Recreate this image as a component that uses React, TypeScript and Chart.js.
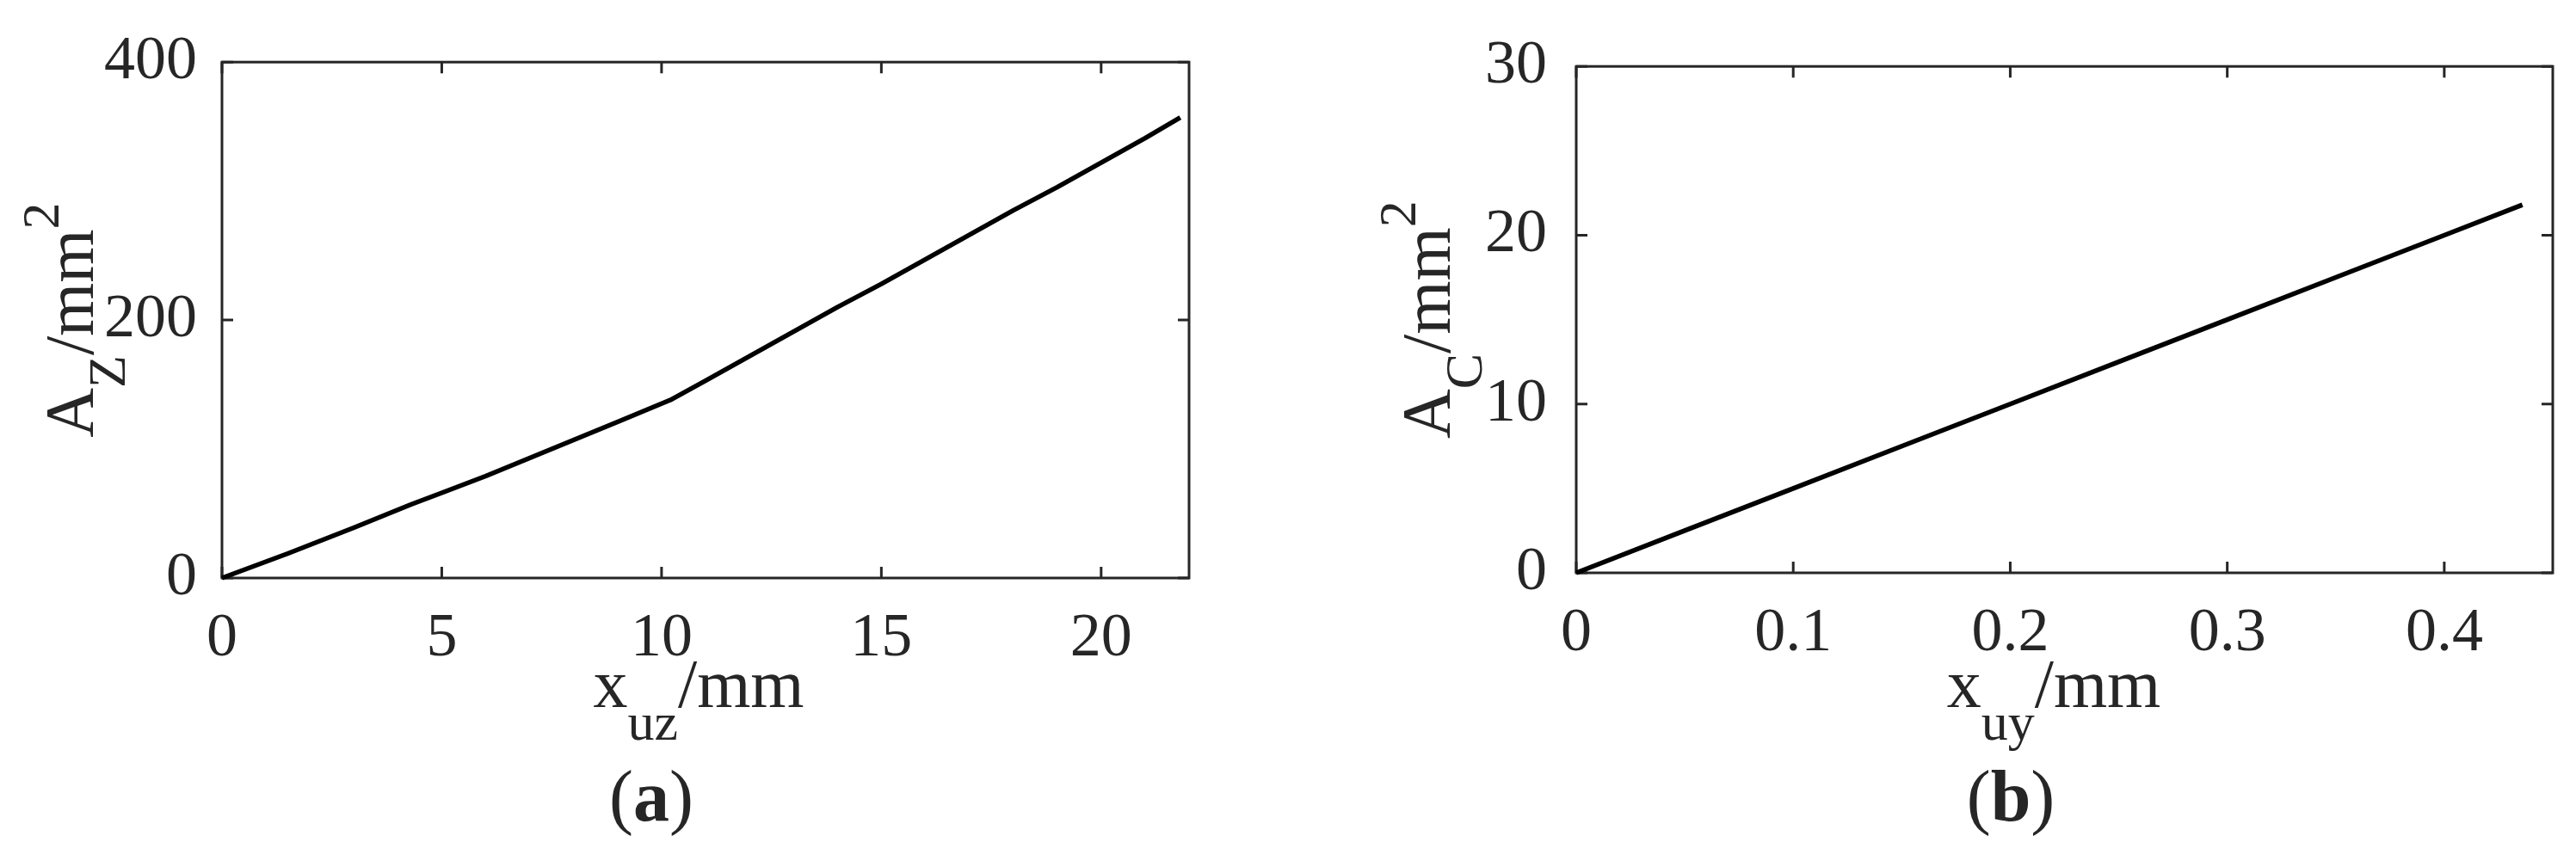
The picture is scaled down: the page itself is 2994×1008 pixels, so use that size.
import React, { useEffect, useRef } from "react";
import { Chart, registerables } from "chart.js";

Chart.register(...registerables);

const FONT = '"Liberation Serif", "Times New Roman", serif';
const INK = "#262626";

// ---------- Panel (a) data ----------
const xuzValues = [0, 1.5, 3, 4.3, 5, 6, 7, 8, 9, 10.2, 11, 12, 13, 14, 15, 16, 17, 18, 19, 20, 21, 21.8];
const azValues = [0, 19, 39, 57, 66, 79, 93, 107, 121, 138, 153, 172, 191, 210, 228, 247, 266, 285, 303, 322, 341, 357];
const xuzTicks = [0, 5, 10, 15, 20];
const azTicks = [0, 200, 400];
const xuzLimits = [0, 22];
const azLimits = [0, 400];

// ---------- Panel (b) data ----------
const xuyValues = [0, 0.05, 0.1, 0.15, 0.2, 0.25, 0.3, 0.35, 0.4, 0.436];
const acValues = [0, 2.5, 5, 7.5, 10, 12.5, 15, 17.5, 20, 21.8];
const xuyTicks = [0, 0.1, 0.2, 0.3, 0.4];
const acTicks = [0, 10, 20, 30];
const xuyLimits = [0, 0.45];
const acLimits = [0, 30];

type Part = { t: string; size: number; dy: number; bold?: boolean };

interface PanelSpec {
  xs: number[];
  ys: number[];
  xTicks: number[];
  yTicks: number[];
  xLim: number[];
  yLim: number[];
  area: { left: number; top: number; right: number; bottom: number };
  yTickPad: number;
  xTickPad: number;
  yTitle: Part[];
  yTitleBaseX: number;
  xTitle: Part[];
  xTitleCx: number;
  xTitleBase: number;
  panel: Part[];
  panelCx: number;
  panelBase: number;
}

const CW = 1497;
const CH = 1008;

function fontOf(p: Part) {
  return `${p.bold ? "bold " : ""}${p.size}px ${FONT}`;
}

function drawRich(ctx: CanvasRenderingContext2D, parts: Part[], x: number, y: number, rotate: boolean) {
  ctx.save();
  ctx.translate(x, y);
  if (rotate) ctx.rotate(-Math.PI / 2);
  ctx.fillStyle = INK;
  ctx.textBaseline = "alphabetic";
  ctx.textAlign = "left";
  const widths = parts.map((p) => {
    ctx.font = fontOf(p);
    return ctx.measureText(p.t).width;
  });
  const total = widths.reduce((a, b) => a + b, 0);
  let cx = -total / 2;
  parts.forEach((p, i) => {
    ctx.font = fontOf(p);
    ctx.fillText(p.t, cx, p.dy);
    cx += widths[i];
  });
  ctx.restore();
}

function makePlugin(spec: PanelSpec) {
  return {
    id: "frame",
    beforeDatasetsDraw(chart: any) {
      const { ctx, chartArea: a, scales } = chart;
      const TL = 13;
      ctx.save();
      ctx.strokeStyle = INK;
      ctx.lineWidth = 3;
      ctx.lineCap = "butt";
      ctx.strokeRect(a.left, a.top, a.right - a.left, a.bottom - a.top);
      ctx.beginPath();
      for (const t of scales.x.ticks) {
        const px = scales.x.getPixelForValue(t.value);
        ctx.moveTo(px, a.bottom);
        ctx.lineTo(px, a.bottom - TL);
        ctx.moveTo(px, a.top);
        ctx.lineTo(px, a.top + TL);
      }
      for (const t of scales.y.ticks) {
        const py = scales.y.getPixelForValue(t.value);
        ctx.moveTo(a.left, py);
        ctx.lineTo(a.left + TL, py);
        ctx.moveTo(a.right, py);
        ctx.lineTo(a.right - TL, py);
      }
      ctx.stroke();
      ctx.restore();
    },
    afterDraw(chart: any) {
      const { ctx, chartArea: a } = chart;
      drawRich(ctx, spec.yTitle, spec.yTitleBaseX, (a.top + a.bottom) / 2, true);
      drawRich(ctx, spec.xTitle, spec.xTitleCx, spec.xTitleBase, false);
      drawRich(ctx, spec.panel, spec.panelCx, spec.panelBase, false);
    },
  };
}

function makeConfig(spec: PanelSpec): any {
  const tickFont = { family: FONT, size: 72 };
  return {
    type: "line",
    data: {
      datasets: [
        {
          data: spec.xs.map((x, i) => ({ x, y: spec.ys[i] })),
          borderColor: "#000000",
          borderWidth: 5.5,
          borderJoinStyle: "round",
          pointRadius: 0,
          tension: 0,
          fill: false,
          clip: false,
        },
      ],
    },
    options: {
      animation: false,
      responsive: false,
      devicePixelRatio: 1,
      events: [],
      layout: {
        padding: { left: 0, top: spec.area.top, right: CW - spec.area.right, bottom: 0 },
      },
      plugins: { legend: { display: false }, tooltip: { enabled: false } },
      scales: {
        x: {
          type: "linear",
          min: spec.xLim[0],
          max: spec.xLim[1],
          grid: { display: false, drawTicks: false },
          border: { display: false },
          afterBuildTicks: (s: any) => {
            s.ticks = spec.xTicks.map((v) => ({ value: v }));
          },
          afterFit: (s: any) => {
            s.height = CH - spec.area.bottom;
          },
          ticks: {
            color: INK,
            font: tickFont,
            padding: spec.xTickPad,
            maxRotation: 0,
            autoSkip: false,
            callback: (v: any) => String(v),
          },
        },
        y: {
          type: "linear",
          min: spec.yLim[0],
          max: spec.yLim[1],
          grid: { display: false, drawTicks: false },
          border: { display: false },
          afterBuildTicks: (s: any) => {
            s.ticks = spec.yTicks.map((v) => ({ value: v }));
          },
          afterFit: (s: any) => {
            s.width = spec.area.left;
          },
          ticks: {
            color: INK,
            font: tickFont,
            padding: spec.yTickPad,
            autoSkip: false,
            callback: (v: any) => String(v),
          },
        },
      },
    },
    plugins: [makePlugin(spec)],
  };
}

const specA: PanelSpec = {
  xs: xuzValues,
  ys: azValues,
  xTicks: xuzTicks,
  yTicks: azTicks,
  xLim: xuzLimits,
  yLim: azLimits,
  area: { left: 258, top: 71, right: 1382, bottom: 672 },
  yTickPad: 29,
  xTickPad: 28,
  yTitle: [
    { t: "A", size: 80, dy: 0 },
    { t: "Z", size: 62, dy: 37 },
    { t: "/mm", size: 80, dy: 0 },
    { t: "2", size: 62, dy: -40 },
  ],
  yTitleBaseX: 108,
  xTitle: [
    { t: "x", size: 80, dy: 0 },
    { t: "uz", size: 62, dy: 38 },
    { t: "/mm", size: 80, dy: 0 },
  ],
  xTitleCx: 812,
  xTitleBase: 822,
  panel: [
    { t: "(", size: 84, dy: 0 },
    { t: "a", size: 84, dy: 0, bold: true },
    { t: ")", size: 84, dy: 0 },
  ],
  panelCx: 757,
  panelBase: 954,
};

const specB: PanelSpec = {
  xs: xuyValues,
  ys: acValues,
  xTicks: xuyTicks,
  yTicks: acTicks,
  xLim: xuyLimits,
  yLim: acLimits,
  area: { left: 335, top: 66, right: 1470, bottom: 666 },
  yTickPad: 34,
  xTickPad: 28,
  yTitle: [
    { t: "A", size: 80, dy: 0 },
    { t: "C", size: 62, dy: 37 },
    { t: "/mm", size: 80, dy: 0 },
    { t: "2", size: 62, dy: -40 },
  ],
  yTitleBaseX: 188,
  xTitle: [
    { t: "x", size: 80, dy: 0 },
    { t: "uy", size: 62, dy: 38 },
    { t: "/mm", size: 80, dy: 0 },
  ],
  xTitleCx: 890,
  xTitleBase: 822,
  panel: [
    { t: "(", size: 84, dy: 0 },
    { t: "b", size: 84, dy: 0, bold: true },
    { t: ")", size: 84, dy: 0 },
  ],
  panelCx: 840,
  panelBase: 954,
};

function Panel({ spec, left }: { spec: PanelSpec; left: number }) {
  const ref = useRef<HTMLCanvasElement | null>(null);
  useEffect(() => {
    if (!ref.current) return;
    const chart = new Chart(ref.current, makeConfig(spec));
    return () => chart.destroy();
  }, [spec]);
  return (
    <canvas
      ref={ref}
      width={CW}
      height={CH}
      style={{ position: "absolute", left, top: 0, width: CW, height: CH }}
    />
  );
}

export default function App() {
  useEffect(() => {
    document.body.style.margin = "0";
    document.body.style.overflow = "hidden";
    document.body.style.background = "#ffffff";
  }, []);
  return (
    <div style={{ position: "relative", width: 2994, height: 1008, background: "#ffffff" }}>
      <Panel spec={specA} left={0} />
      <Panel spec={specB} left={1497} />
    </div>
  );
}
